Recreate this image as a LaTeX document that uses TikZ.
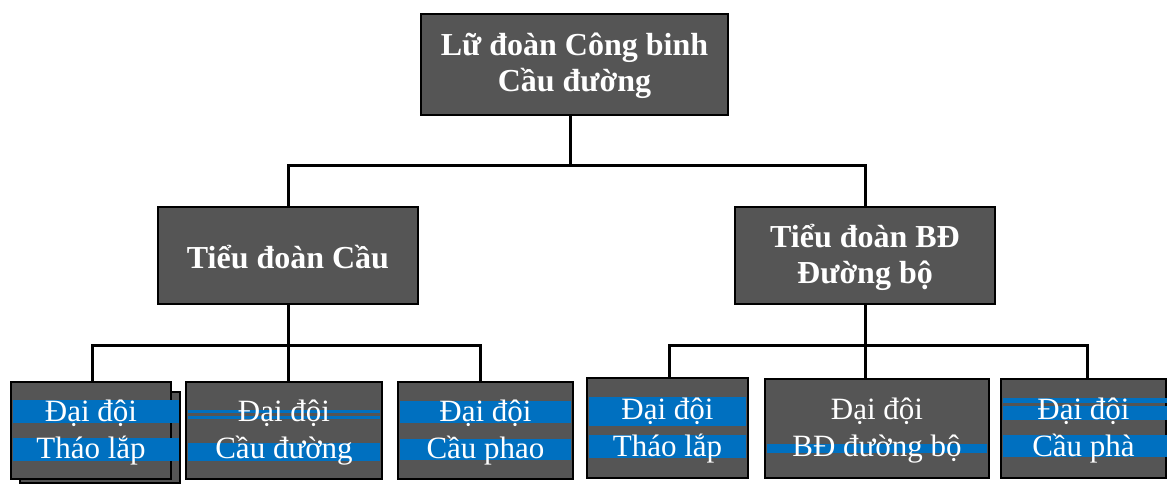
\documentclass[tikz,border=0pt]{standalone}
\usepackage{fontspec}
\setmainfont{Liberation Serif}
\definecolor{boxgray}{HTML}{555555}
\definecolor{band}{HTML}{0070C0}
\tikzset{
  box/.style={draw=black, line width=2.5pt, fill=boxgray, inner sep=0pt, rectangle},
  txtbig/.style={text=white, align=center, font=\fontsize{32}{36}\selectfont\bfseries, inner sep=0pt, yshift=-1.5pt},
  txtsmall/.style={text=white, align=center, font=\fontsize{31}{37}\selectfont, inner sep=0pt, yshift=-2.5pt},
  conn/.style={draw=black, line width=3pt},
  bandfill/.style={fill=band}
}
\begin{document}
\begin{tikzpicture}[x=1pt,y=-1pt]
\useasboundingbox (0,0) rectangle (1167,484);
% shadow of first box
\draw[line width=2.5pt, fill=boxgray] (20,392) rectangle (180,483);
% boxes
\node[box, minimum width=307pt, minimum height=101pt] (top) at (574.5,64.5) {};
\node[box, minimum width=260pt, minimum height=97pt] (m1) at (288,255.5) {};
\node[box, minimum width=260pt, minimum height=97pt] (m2) at (865,255.5) {};
\node[box, minimum width=160pt, minimum height=97pt] (b1) at (91,430.5) {};
\node[box, minimum width=196pt, minimum height=97pt] (b2) at (284,430.5) {};
\node[box, minimum width=175pt, minimum height=97pt] (b3) at (485.5,430.5) {};
\node[box, minimum width=161pt, minimum height=100pt] (b4) at (667.5,428) {};
\node[box, minimum width=224pt, minimum height=99pt] (b5) at (877,428.5) {};
\node[box, minimum width=165pt, minimum height=99pt] (b6) at (1083.5,428.5) {};
% blue bands
\fill[bandfill] (13,400) rectangle (179,423);
\fill[bandfill] (13,438) rectangle (179,461);
\fill[bandfill] (188,410) rectangle (380,413);
\fill[bandfill] (188,416) rectangle (380,419);
\fill[bandfill] (188,443) rectangle (380,461);
\fill[bandfill] (400,401) rectangle (571,423);
\fill[bandfill] (400,439) rectangle (571,460);
\fill[bandfill] (589,397) rectangle (746,426);
\fill[bandfill] (589,435) rectangle (746,458);
\fill[bandfill] (767,444) rectangle (987,453);
\fill[bandfill] (1003,398) rectangle (1167,403);
\fill[bandfill] (1003,406) rectangle (1167,420);
\fill[bandfill] (1003,435) rectangle (1167,457);
% texts
\node[txtbig] (ttop) at (top) {Lữ đoàn Công binh\\Cầu đường};
\node[txtbig] (tm1) at (m1) {Tiểu đoàn Cầu};
\node[txtbig] (tm2) at (m2) {Tiểu đoàn BĐ\\Đường bộ};
\node[txtsmall] (tb1) at (b1) {Đại đội\\Tháo lắp};
\node[txtsmall] (tb2) at (b2) {Đại đội\\Cầu đường};
\node[txtsmall] (tb3) at (b3) {Đại đội\\Cầu phao};
\node[txtsmall] (tb4) at (b4) {Đại đội\\Tháo lắp};
\node[txtsmall] (tb5) at (b5) {Đại đội\\BĐ đường bộ};
\node[txtsmall] (tb6) at (b6) {Đại đội\\Cầu phà};
% connectors
\coordinate (j0) at (570,165);
\draw[conn] ([xshift=-4.5pt]top.south) -- (j0);
\draw[conn] (m1.north) |- (j0) -| (m2.north);
\draw[conn] (m1.south) -- ++(0,40) coordinate (j1);
\draw[conn] ([xshift=1pt]b1.north) |- (j1) -| ([xshift=-5.5pt]b3.north);
\draw[conn] (j1) -- (j1 |- b2.north);
\draw[conn] (m2.south) -- ++(0,40) coordinate (j2);
\draw[conn] ([xshift=1.5pt]b4.north) |- (j2) -| ([xshift=3.5pt]b6.north);
\draw[conn] (j2) -- (j2 |- b5.north);
\end{tikzpicture}
\end{document}
